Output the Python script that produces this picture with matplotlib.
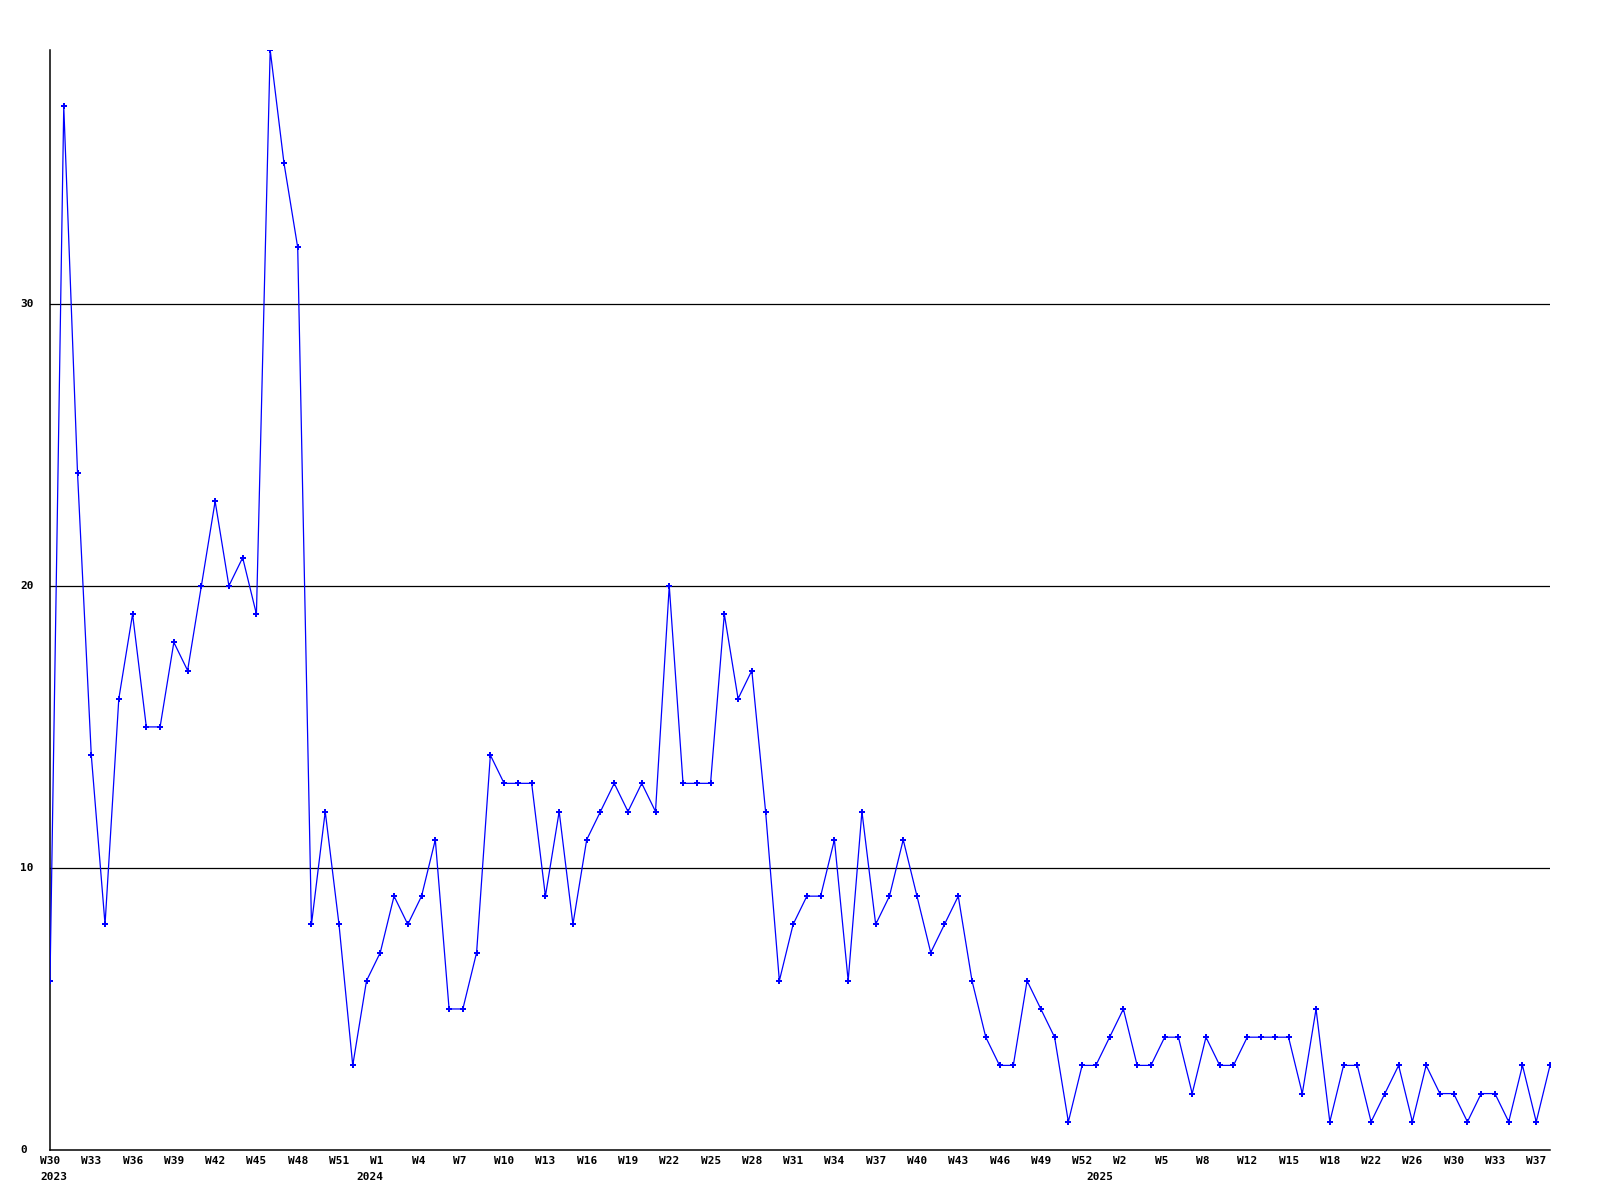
import matplotlib
matplotlib.use("Agg")
import matplotlib.pyplot as plt
from matplotlib.transforms import ScaledTranslation, blended_transform_factory

# ---- data -------------------------------------------------------------
weeks_2023 = ["W30", "W31", "W32", "W33", "W34", "W35", "W36", "W37", "W38", "W39",
              "W40", "W41", "W42", "W43", "W44", "W45", "W46", "W47", "W48", "W49",
              "W50", "W51", "W52", "W53"]
values_2023 = [6, 37, 24, 14, 8, 16, 19, 15, 15, 18,
               17, 20, 23, 20, 21, 19, 39, 35, 32, 8,
               12, 8, 3, 6]

weeks_2024 = ["W1", "W2", "W3", "W4", "W5", "W6", "W7", "W8", "W9", "W10",
              "W11", "W12", "W13", "W14", "W15", "W16", "W17", "W18", "W19", "W20",
              "W21", "W22", "W23", "W24", "W25", "W26", "W27", "W28", "W29", "W30",
              "W31", "W32", "W33", "W34", "W35", "W36", "W37", "W38", "W39", "W40",
              "W41", "W42", "W43", "W44", "W45", "W46", "W47", "W48", "W49", "W50",
              "W51", "W52", "W53"]
values_2024 = [7, 9, 8, 9, 11, 5, 5, 7, 14, 13,
               13, 13, 9, 12, 8, 11, 12, 13, 12, 13,
               12, 20, 13, 13, 13, 19, 16, 17, 12, 6,
               8, 9, 9, 11, 6, 12, 8, 9, 11, 9,
               7, 8, 9, 6, 4, 3, 3, 6, 5, 4,
               1, 3, 3]

weeks_2025 = ["W1", "W2", "W3", "W4", "W5", "W6", "W7", "W8", "W9", "W11",
              "W12", "W13", "W14", "W15", "W16", "W17", "W18", "W19", "W21", "W22",
              "W23", "W25", "W26", "W27", "W29", "W30", "W31", "W32", "W33", "W34",
              "W36", "W37", "W38"]
values_2025 = [4, 5, 3, 3, 4, 4, 2, 4, 3, 3,
               4, 4, 4, 4, 2, 5, 1, 3, 3, 1,
               2, 3, 1, 3, 2, 2, 1, 2, 2, 1,
               3, 1, 3]

years = ["2023", "2024", "2025"]
y_ticks = [0, 10, 20, 30]

# ---- assemble -----------------------------------------------------------
week_groups = [weeks_2023, weeks_2024, weeks_2025]
value_groups = [values_2023, values_2024, values_2025]
labels = [w for g in week_groups for w in g]
values = [v for g in value_groups for v in g]
x = list(range(len(values)))

mono = ["DejaVu Sans Mono"]

fig = plt.figure(figsize=(16, 12), dpi=100)
ax = fig.add_axes([50 / 1600, 50 / 1200, 1500 / 1600, 1100 / 1200])

for t in y_ticks[1:]:
    ax.axhline(t, color="black", lw=0.9, zorder=1)

ax.plot(x, values, color="#0000ff", lw=0.9, marker="P", ms=4.2, mew=0,
        zorder=3)

ax.set_xlim(0, len(values) - 1)
ax.set_ylim(0, max(values))

for s in ("top", "right"):
    ax.spines[s].set_visible(False)
for s in ("left", "bottom"):
    ax.spines[s].set_color("black")
    ax.spines[s].set_linewidth(1.1)

ax.set_xticks([])
ax.set_yticks([])

px = 1 / 100.0
bt_x = blended_transform_factory(ax.transData, ax.transAxes)
bt_y = blended_transform_factory(ax.transAxes, ax.transData)

# x tick labels: every third category
for i in range(0, len(labels), 3):
    ax.text(i, 0, labels[i], transform=bt_x + ScaledTranslation(-10 * px, -11 * px, fig.dpi_scale_trans),
            ha="left", va="center", fontsize=8, fontweight="bold", family=mono,
            clip_on=False)

# year labels at first category of each year
start = 0
for k, (yr, g) in enumerate(zip(years, week_groups)):
    if k == 0:
        ax.text(start, 0, yr, transform=bt_x + ScaledTranslation(-10 * px, -27 * px, fig.dpi_scale_trans),
                ha="left", va="center", fontsize=8, fontweight="bold", family=mono,
                clip_on=False)
    else:
        ax.text(start, 0, yr, transform=bt_x + ScaledTranslation(-10 * px, -27 * px, fig.dpi_scale_trans),
                ha="center", va="center", fontsize=8, fontweight="bold", family=mono,
                clip_on=False)
    start += len(g)

# y tick labels
for t in y_ticks:
    ax.text(0, t, str(t), transform=bt_y + ScaledTranslation(-30 * px, 0, fig.dpi_scale_trans),
            ha="left", va="center", fontsize=8, fontweight="bold", family=mono,
            clip_on=False)

fig.savefig("out.png", dpi=100, facecolor="white")
